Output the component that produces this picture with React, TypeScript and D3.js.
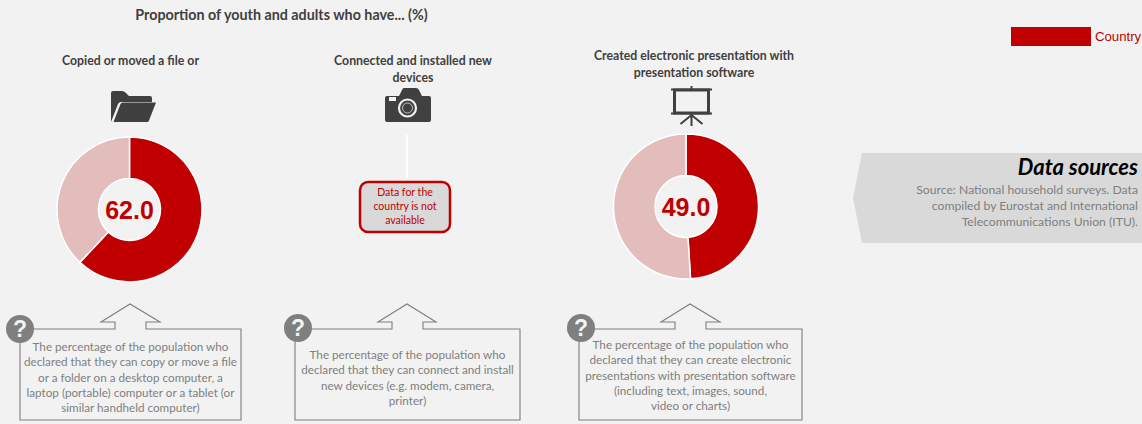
import * as d3 from "d3";

const chartTitle = "Proportion of youth and adults who have... (%)";
const legendLabel = "Country";
const indicators = [
  ["Copied or moved a file or"],
  ["Connected and installed new", "devices"],
  ["Created electronic presentation with", "presentation software"],
];
const values: (number | null)[] = [62.0, null, 49.0];
const notes = [
  [
    "The percentage of the population who",
    "declared that they can copy or move a file",
    "or a folder on a desktop computer, a",
    "laptop (portable) computer or a tablet (or",
    "similar handheld computer)",
  ],
  [
    "The percentage of the population who",
    "declared that they can connect and install",
    "new devices (e.g. modem, camera,",
    "printer)",
  ],
  [
    "The percentage of the population who",
    "declared that they can create electronic",
    "presentations with presentation software",
    "(including text, images, sound,",
    "video or charts)",
  ],
];
const missingText = ["Data for the", "country is not", "available"];
const sourceTitle = "Data sources";
const sourceText = [
  "Source: National household surveys. Data",
  "compiled by Eurostat and International",
  "Telecommunications Union (ITU).",
];

const RED = "#c00000";
const PALE = "#e3bcbc";
const DARK = "#404040";
const GREY = "#7f7f7f";
const FONT = "Lato, 'Open Sans', sans-serif";

// layout of the three panels
const donutCentres = [
  { x: 129.5, y: 209.5 },
  { x: 407, y: 209.5 },
  { x: 686, y: 206.5 },
];
const titleX = [130.5, 413, 694];
const callouts = [
  { x0: 20, x1: 241, top: 329, bottom: 420, head0: 101, head1: 160, stem0: 115, stem1: 146, tip: 130, cx: 20, cy: 329, textTop: 351 },
  { x0: 295, x1: 520, top: 329, bottom: 420, head0: 378, head1: 436, stem0: 392, stem1: 423, tip: 407, cx: 298, cy: 328, textTop: 359 },
  { x0: 579, x1: 802, top: 329, bottom: 420, head0: 661, head1: 720, stem0: 675, stem1: 706, tip: 690, cx: 581, cy: 328, textTop: 349 },
];

const pie = d3
  .pie<number>()
  .sort(null)
  .value((d) => d);
const arc = d3.arc<d3.PieArcDatum<number>>().innerRadius(31).outerRadius(72.5);

const Donut = ({ value, x, y }: { value: number; x: number; y: number }) => (
  <g transform={`translate(${x},${y})`}>
    {pie([value, 100 - value]).map((slice, i) => (
      <path key={i} d={arc(slice) ?? ""} fill={i === 0 ? RED : PALE} stroke="#fff" strokeWidth={1.5} />
    ))}
    <text
      y={9}
      textAnchor="middle"
      fontFamily="'Liberation Sans', Arial, sans-serif"
      fontWeight={700}
      fontSize={25}
      fill={RED}
    >
      {value.toFixed(1)}
    </text>
  </g>
);

const Callout = ({ c, lines }: { c: (typeof callouts)[number]; lines: string[] }) => {
  const headY = c.top - 7;
  const tipY = c.top - 25;
  const outline = d3.line()([
    [c.x0, c.top],
    [c.stem0, c.top],
    [c.stem0, headY],
    [c.head0, headY],
    [c.tip, tipY],
    [c.head1, headY],
    [c.stem1, headY],
    [c.stem1, c.top],
    [c.x1, c.top],
    [c.x1, c.bottom],
    [c.x0, c.bottom],
  ]);
  return (
    <g>
      <path d={outline + "Z"} fill="#f2f2f2" stroke={GREY} strokeWidth={1.1} />
      <circle cx={c.cx} cy={c.cy} r={14} fill={GREY} />
      <text
        x={c.cx}
        y={c.cy + 8}
        textAnchor="middle"
        fontFamily="'Liberation Sans', Arial, sans-serif"
        fontWeight={700}
        fontSize={23}
        fill="#f2f2f2"
      >
        ?
      </text>
      {lines.map((line, i) => (
        <text
          key={i}
          x={(c.x0 + c.x1) / 2}
          y={c.textTop + i * 15.3}
          textAnchor="middle"
          fontFamily={FONT}
          fontSize={11.7}
          fill={GREY}
        >
          {line}
        </text>
      ))}
    </g>
  );
};

const FolderIcon = () => (
  <g fill={DARK}>
    <path d="M111 122V93q0-2 2-2h9q2 0 4 2l3 3h21q2 0 2 2v4h-31q-2 0-3 2l-7 18z" />
    <path d="M113.500 122l7-18q.5-1.500 2.500-1.500h33l-7 18q-.5 1.500-2 1.500z" />
  </g>
);

const CameraIcon = () => (
  <g>
    <path
      d="M387 96h12l3-6q.5-2 2-2h12q2 0 3 2l3 6h7q2 0 2 2v22q0 2-2 2h-42q-2 0-2-2v-22q0-2 2-2z"
      fill={DARK}
    />
    <rect x={389} y={97} width={7} height={4} fill="#f2f2f2" />
    <circle cx={407.5} cy={108} r={8.5} fill="none" stroke="#f2f2f2" strokeWidth={2.2} />
    <circle cx={407.5} cy={108} r={5} fill={DARK} stroke="#cfcfcf" strokeWidth={0.9} />
  </g>
);

const ScreenIcon = () => (
  <g stroke={DARK} fill="none">
    <path d="M671 89.500h41M671 113.500h41" strokeWidth={2} />
    <rect x={674.500} y={90} width={34} height={23} strokeWidth={3} />
    <path d="M691.500 86v4M691.500 114v12M691.500 115l-11 9M691.500 115l11 9" strokeWidth={2} />
  </g>
);

export default function App() {
  return (
    <svg
      width={1142}
      height={424}
      style={{ position: "absolute", left: 0, top: 0, background: "#f2f2f2" }}
    >
      <text x={281.5} y={20} textAnchor="middle" fontFamily={FONT} fontWeight={700} fontSize={14.3} fill={DARK}>
        {chartTitle}
      </text>

      {indicators.map((lines, i) =>
        lines.map((line, j) => (
          <text
            key={`${i}-${j}`}
            x={titleX[i]}
            y={(i === 2 ? 60 : 65) + j * 16.5}
            textAnchor="middle"
            fontFamily={FONT}
            fontWeight={700}
            fontSize={12.3}
            fill={DARK}
          >
            {line}
          </text>
        ))
      )}

      <FolderIcon />
      <CameraIcon />
      <ScreenIcon />

      {values.map((v, i) =>
        v === null ? (
          <g key={i}>
            <line x1={407} x2={407} y1={135} y2={178} stroke="#fff" strokeWidth={2} />
            <rect x={360} y={182} width={90} height={50} rx={8} fill="#d9d9d9" stroke={RED} strokeWidth={2.5} />
            {missingText.map((line, j) => (
              <text key={j} x={405} y={196 + j * 14} textAnchor="middle" fontFamily={FONT} fontSize={10.5} fill={RED}>
                {line}
              </text>
            ))}
          </g>
        ) : (
          <Donut key={i} value={v} x={donutCentres[i].x} y={donutCentres[i].y} />
        )
      )}

      {callouts.map((c, i) => (
        <Callout key={i} c={c} lines={notes[i]} />
      ))}

      <rect x={1011} y={27} width={80} height={19} fill={RED} />
      <text x={1095} y={41} fontFamily="'Liberation Sans', Arial, sans-serif" fontSize={13.2} fill={RED}>
        {legendLabel}
      </text>

      <polygon points="853,198 862,153 1142,153 1142,243 862,243" fill="#d9d9d9" />
      <text x={1138} y={175} textAnchor="end" fontFamily={FONT} fontWeight={700} fontStyle="italic" fontSize={22} fill="#000">
        {sourceTitle}
      </text>
      {sourceText.map((line, i) => (
        <text key={i} x={1138} y={194 + i * 16} textAnchor="end" fontFamily={FONT} fontSize={12.2} fill={GREY}>
          {line}
        </text>
      ))}
    </svg>
  );
}
